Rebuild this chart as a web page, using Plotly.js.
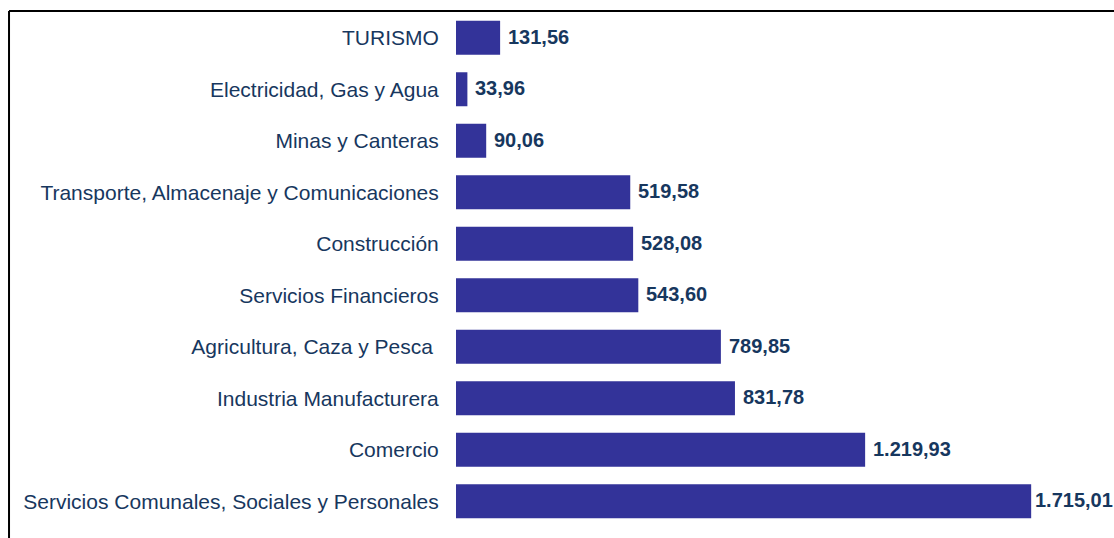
<!DOCTYPE html>
<html>
<head>
<meta charset="utf-8">
<script src="https://cdn.plot.ly/plotly-3.0.1.min.js"></script>
<style>
html,body{margin:0;padding:0;background:#fff;}
#chart{width:1114px;height:538px;}
</style>
</head>
<body>
<div id="chart"></div>
<script>
var categories = [
  "TURISMO",
  "Electricidad, Gas y Agua",
  "Minas y Canteras",
  "Transporte, Almacenaje y Comunicaciones",
  "Construcción",
  "Servicios Financieros",
  "Agricultura, Caza y Pesca ",
  "Industria Manufacturera",
  "Comercio",
  "Servicios Comunales, Sociales y Personales"
];
var values = [131.56, 33.96, 90.06, 519.58, 528.08, 543.60, 789.85, 831.78, 1219.93, 1715.01];

var FONT = '"Liberation Sans", Arial, sans-serif';

function fmt(v) {
  var parts = v.toFixed(2).split('.');
  var intPart = parts[0].replace(/\B(?=(\d{3})+(?!\d))/g, '.');
  return intPart + ',' + parts[1];
}

var trace = {
  type: 'bar',
  orientation: 'h',
  x: values,
  y: categories,
  marker: {color: '#333399'},
  cliponaxis: false,
  hoverinfo: 'none'
};

var maxV = Math.max.apply(null, values);
var annotations = values.map(function (v, i) {
  return {
    x: v, y: categories[i], xref: 'x', yref: 'y',
    text: fmt(v),
    xanchor: 'left', yanchor: 'middle',
    xshift: v === maxV ? 2 : 6, yshift: 1,
    showarrow: false,
    font: {family: FONT, size: 20, color: '#17375e', weight: 'bold'}
  };
});

var layout = {
  width: 1114,
  height: 538,
  margin: {l: 456, r: 0, t: 12, b: 11},
  paper_bgcolor: '#ffffff',
  plot_bgcolor: '#ffffff',
  showlegend: false,
  bargap: 0.34,
  font: {family: FONT, color: '#17375e'},
  xaxis: {
    range: [0, 1962],
    showgrid: false,
    zeroline: false,
    showline: false,
    showticklabels: false,
    ticks: ''
  },
  yaxis: {
    autorange: 'reversed',
    showgrid: false,
    zeroline: false,
    showline: false,
    ticks: 'outside',
    ticklen: 12,
    tickcolor: 'rgba(0,0,0,0)',
    tickfont: {family: FONT, size: 21, color: '#17375e'}
  },
  annotations: annotations,
  shapes: [
    {type: 'line', xref: 'paper', yref: 'paper', x0: -0.6793, x1: 1.01, y0: 1.0019, y1: 1.0019, line: {color: '#000', width: 2}},
    {type: 'line', xref: 'paper', yref: 'paper', x0: -0.6793, x1: -0.6793, y0: 1.0019, y1: -0.03, line: {color: '#000', width: 2}}
  ]
};

Plotly.newPlot('chart', [trace], layout, {displayModeBar: false, staticPlot: true});
</script>
</body>
</html>
